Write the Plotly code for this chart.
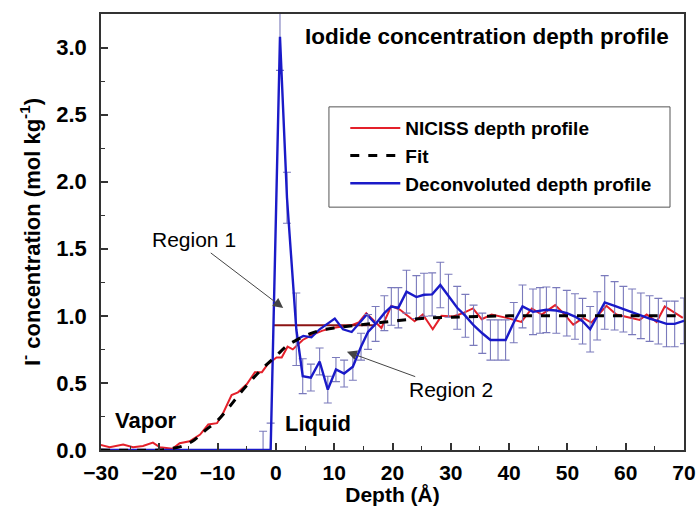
import plotly.graph_objects as go

# ---------------- data ----------------
niciss_x = [-30.2, -28.5, -26.2, -24.5, -22.8, -21.1, -19.9, -17.7, -16.5, -14.8, -13.0, -11.6,
            -10.1, -9.0, -7.6, -6.5, -5.0, -3.6, -2.4, -1.4, 0.1, 1.0, 2.0, 2.9, 4.6, 6.3, 8.0,
            9.7, 11.4, 13.0, 14.2, 15.5, 18.1, 19.8, 21.3, 23.8, 25.2, 26.9, 28.4, 30.4, 32.1,
            33.8, 35.3, 37.0, 39.6, 42.1, 43.9, 45.6, 47.9, 49.3, 51.0, 52.7, 54.1, 56.7, 58.4,
            59.9, 62.4, 63.6, 65.3, 66.7, 68.4, 69.8]
niciss_y = [0.04, 0.02, 0.04, 0.02, 0.03, 0.055, 0.02, 0.01, 0.05, 0.065, 0.115, 0.19,
            0.20, 0.28, 0.41, 0.43, 0.49, 0.58, 0.58, 0.64, 0.69, 0.69, 0.77, 0.75, 0.82, 0.86, 0.89,
            0.91, 0.92, 0.93, 0.95, 1.02, 0.91, 1.075, 1.045, 0.96, 1.01, 0.90, 1.00, 0.995, 1.02,
            1.055, 0.975, 1.01, 0.985, 0.955, 1.055, 1.01, 1.08, 1.02, 0.935, 0.985, 0.95, 1.075, 1.01,
            0.995, 0.97, 1.01, 0.955, 1.07, 1.02, 0.985]

fit_x = [-30, -20, -18, -16, -14, -12, -10, -8, -6, -4, -2, 0, 2, 4, 6, 8, 10, 12, 15, 20, 25,
         30, 40, 50, 60, 70]
fit_y = [0.0, 0.0, 0.01, 0.03, 0.075, 0.15, 0.22, 0.32, 0.43, 0.53, 0.62, 0.70, 0.78, 0.83,
         0.87, 0.895, 0.91, 0.92, 0.935, 0.96, 0.98, 0.99, 1.0, 1.0, 1.0, 1.0]

decon_x = [-30, -2.2, -0.9, 0.7, 1.9, 3.5, 4.6, 6.0, 7.5, 8.9, 10.3, 11.7, 13.2, 14.6, 15.8,
           17.1, 18.6, 19.8, 21.0, 22.4, 24.1, 25.4, 26.8, 28.2, 29.6, 31.1, 32.5, 33.9, 35.4,
           36.8, 38.1, 39.4, 40.8, 42.3, 44.1, 45.3, 46.4, 48.1, 49.9, 51.3, 52.6, 53.9, 55.1,
           56.4, 58.1, 59.6, 61.1, 62.6, 64.1, 65.6, 67.0, 68.4, 70.0]
decon_y = [0.0, 0.0, 0.0, 3.08, 1.88, 0.90, 0.55, 0.54, 0.66, 0.45, 0.60, 0.57, 0.62, 0.77, 0.88,
           0.94, 1.02, 1.07, 1.06, 1.18, 1.14, 1.157, 1.16, 1.23, 1.15, 1.06, 1.00, 0.93, 0.87,
           0.82, 0.82, 0.82, 0.95, 1.07, 1.03, 1.04, 1.045, 1.04, 1.02, 0.995, 0.96, 0.90, 1.00,
           1.10, 1.075, 1.05, 1.03, 1.00, 0.98, 0.96, 0.94, 0.94, 0.963]
decon_err = [0.0, 0.14, 0.20, 0.25, 0.19, 0.27, 0.13, 0.10, 0.10, 0.10, 0.09, 0.10, 0.10, 0.10, 0.13,
             0.13, 0.13, 0.14, 0.15, 0.16, 0.16, 0.16, 0.16, 0.17, 0.16, 0.16, 0.16, 0.15, 0.15,
             0.15, 0.15, 0.15, 0.15, 0.16, 0.17, 0.17, 0.17, 0.17, 0.17, 0.17, 0.17, 0.17, 0.18,
             0.20, 0.18, 0.17, 0.17, 0.17, 0.17, 0.17, 0.17, 0.17, 0.17]

upper_x = [3.4, 4.7, 6.1, 7.5, 10.1, 11.5, 13.0, 15.6, 17.1]
upper_y = [0.82, 0.85, 0.84, 0.90, 0.98, 0.90, 0.88, 1.01, 0.94]

region1_x = [-0.4, 17.0]
region1_y = [0.93, 0.93]

FONT = "Liberation Sans, Arial, sans-serif"
RED = "#E4202A"
BLUE = "#1A1AC8"

fig = go.Figure()
fig.add_trace(go.Scatter(x=niciss_x, y=niciss_y, mode="lines", name="NICISS depth profile",
                         line=dict(color=RED, width=2), legendrank=1))
fig.add_trace(go.Scatter(x=region1_x, y=region1_y, mode="lines", showlegend=False,
                         line=dict(color="#8C1414", width=2.2)))
fig.add_trace(go.Scatter(x=upper_x, y=upper_y, mode="lines", showlegend=False,
                         line=dict(color=BLUE, width=2.2)))
fig.add_trace(go.Scatter(x=decon_x, y=decon_y, mode="lines", name="Deconvoluted depth profile",
                         line=dict(color=BLUE, width=2.4), legendrank=3,
                         error_y=dict(type="data", array=decon_err, color="#7A7ABC",
                                      thickness=1.1, width=4)))
fig.add_trace(go.Scatter(x=fit_x, y=fit_y, mode="lines", name="Fit", line_shape="spline",
                         line=dict(color="black", width=3, dash="dash"), legendrank=2))

reg_font = dict(family=FONT, size=21, color="black")
bold_font = dict(family=FONT, size=22, color="black", weight="bold")
annotations = [
    dict(x=36.2, y=3.084, text="Iodide concentration depth profile", showarrow=False,
         font=dict(family=FONT, size=22.5, color="black", weight="bold")),
    dict(x=1.25, y=1.058, ax=-14.1, ay=1.566, axref="x", ayref="y", text="Region 1",
         showarrow=True, arrowhead=2, arrowsize=2, arrowwidth=1, arrowcolor="#444444",
         font=reg_font),
    dict(x=12.18, y=0.733, ax=30.0, ay=0.45, axref="x", ayref="y", text="Region 2",
         showarrow=True, arrowhead=2, arrowsize=2, arrowwidth=1, arrowcolor="#444444",
         font=reg_font),
    dict(x=-22.2, y=0.22, text="Vapor", showarrow=False, font=bold_font),
    dict(x=7.2, y=0.197, text="Liquid", showarrow=False, font=bold_font),
]

fig.update_layout(
    width=696, height=506,
    margin=dict(l=101, r=12, t=14, b=56),
    paper_bgcolor="white", plot_bgcolor="white",
    font=dict(family=FONT, color="black"),
    annotations=annotations,
    showlegend=True,
    legend=dict(x=0.419, y=0.782, xanchor="left", yanchor="top",
                bgcolor="rgba(0,0,0,0)", borderwidth=0,
                font=dict(family=FONT, size=19, color="black", weight="bold"),
                itemwidth=50, traceorder="normal"),
    shapes=[dict(type="rect", xref="paper", yref="paper", x0=0.391, x1=0.976, y0=0.557, y1=0.787,
                 line=dict(color="#555555", width=1), fillcolor="rgba(0,0,0,0)", layer="below")],
)

fig.update_xaxes(range=[-30, 70], dtick=10, tick0=0, ticks="inside", ticklen=7, tickwidth=1.5,
                 tickcolor="#333", showline=True, linecolor="#333", linewidth=1.5, mirror=True,
                 showgrid=False, zeroline=False, ticklabelstandoff=3, automargin=False,
                 ticklabeloverflow="allow",
                 tickfont=dict(family=FONT, size=21, color="black", weight="bold"),
                 minor=dict(dtick=5, ticks="inside", ticklen=4, tickcolor="#333", tickwidth=1.2),
                 title=dict(text="Depth (Å)", standoff=12,
                            font=dict(family=FONT, size=21, weight="bold")))
fig.update_yaxes(range=[0, 3.25], dtick=0.5, tick0=0, tickformat=".1f", ticks="inside", ticklen=7,
                 tickwidth=1.5, tickcolor="#333", showline=True, linecolor="#333", linewidth=1.5,
                 mirror=True, showgrid=False, zeroline=False, ticklabelstandoff=8, automargin=False,
                 tickfont=dict(family=FONT, size=22, color="black", weight="bold"),
                 minor=dict(dtick=0.25, ticks="inside", ticklen=4, tickcolor="#333", tickwidth=1.2),
                 title=dict(text="I<sup>-</sup> concentration (mol kg<sup>-1</sup>)", standoff=10,
                            font=dict(family=FONT, size=22, weight="bold")))

fig.write_html("out.html")
